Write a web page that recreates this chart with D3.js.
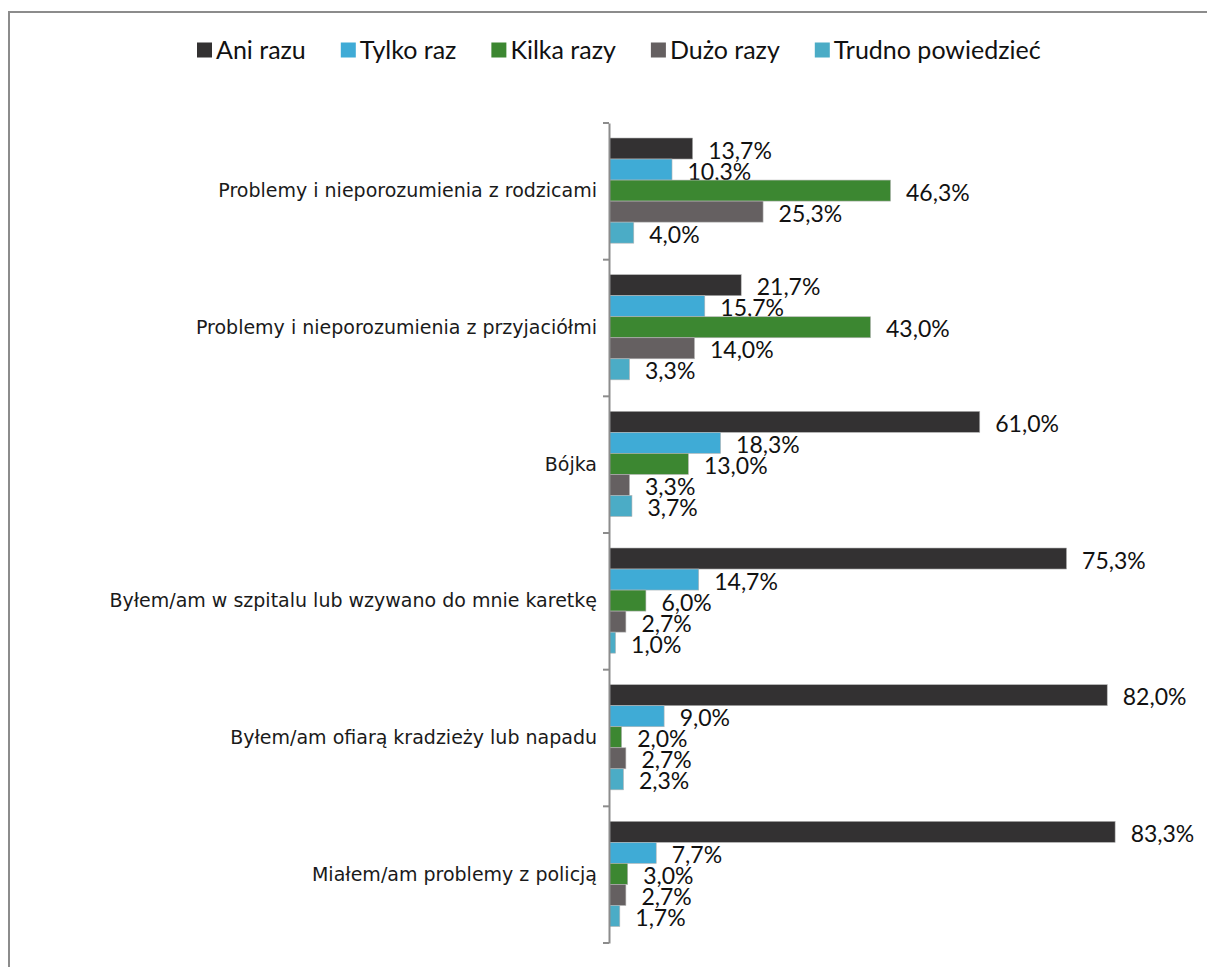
<!DOCTYPE html>
<html>
<head>
<meta charset="utf-8">
<script src="https://cdn.jsdelivr.net/npm/d3@7"></script>
<style>
  html, body { margin: 0; padding: 0; background: #fff; }
  svg { display: block; }
  .cat { font-family: "DejaVu Sans", Verdana, sans-serif; font-size: 19px; fill: #1a1a1a; }
  .val, .leg { font-family: Lato, "Open Sans", sans-serif; fill: #111; }
</style>
</head>
<body>
<svg id="chart" width="1207" height="967"></svg>
<script>
// Categories (top to bottom)
const categories = [
  "Problemy i nieporozumienia z rodzicami",
  "Problemy i nieporozumienia z przyjaciółmi",
  "Bójka",
  "Byłem/am w szpitalu lub wzywano do mnie karetkę",
  "Byłem/am ofiarą kradzieży lub napadu",
  "Miałem/am problemy z policją"
];

// Answer series
const seriesNames = ["Ani razu", "Tylko raz", "Kilka razy", "Dużo razy", "Trudno powiedzieć"];
const seriesColors = ["#333132", "#3fabd6", "#3c8731", "#656061", "#4bacc6"];

// Percent values per series, one per category
const aniRazu   = [13.7, 21.7, 61.0, 75.3, 82.0, 83.3];
const tylkoRaz  = [10.3, 15.7, 18.3, 14.7,  9.0,  7.7];
const kilkaRazy = [46.3, 43.0, 13.0,  6.0,  2.0,  3.0];
const duzoRazy  = [25.3, 14.0,  3.3,  2.7,  2.7,  2.7];
const trudno    = [ 4.0,  3.3,  3.7,  1.0,  2.3,  1.7];

const seriesValues = [aniRazu, tylkoRaz, kilkaRazy, duzoRazy, trudno];

const svg = d3.select("#chart");

// Outer frame
svg.append("rect")
  .attr("x", 9).attr("y", 12)
  .attr("width", 1220).attr("height", 980)
  .attr("fill", "none")
  .attr("stroke", "#8c8c8c")
  .attr("stroke-width", 2);

const plot = { left: 609, top: 123, bottom: 943 };

const x = d3.scaleLinear().domain([0, 90]).range([plot.left, plot.left + 90 * 6.07]);

const y0 = d3.scaleBand().domain(categories).range([plot.top, plot.bottom]).paddingInner(0).paddingOuter(0);

const y1 = d3.scaleBand().domain(seriesNames)
  .range([15, y0.bandwidth() - 16.5]).padding(0);

const fmt = v => d3.format(".1f")(v).replace(".", ",") + "%";

// Bars and value labels
const groups = svg.append("g").selectAll("g")
  .data(categories)
  .join("g")
  .attr("transform", d => `translate(0,${y0(d)})`);

groups.each(function(cat, ci) {
  const g = d3.select(this);
  seriesNames.forEach((s, si) => {
    const v = seriesValues[si][ci];
    g.append("rect")
      .attr("x", x(0) + 0.5)
      .attr("y", y1(s))
      .attr("width", x(v) - x(0))
      .attr("height", y1.bandwidth())
      .attr("fill", seriesColors[si])
      .attr("stroke", "#b4b4b4")
      .attr("stroke-width", 0.6);
    g.append("text")
      .attr("class", "val")
      .attr("x", x(v) + 16)
      .attr("y", y1(s) + y1.bandwidth() / 2 + 2)
      .attr("dy", "0.35em")
      .style("font-size", "23px")
      .text(fmt(v));
  });
});

// Category axis
const yAxis = d3.axisLeft(y0).tickSize(0).tickPadding(12);
const axisG = svg.append("g").attr("transform", `translate(${plot.left},0)`).call(yAxis);
axisG.select(".domain").attr("stroke", "#8c8c8c").attr("stroke-width", 2);
axisG.selectAll(".tick text").attr("class", "cat").attr("fill", null);

// Category separator ticks
const boundaries = categories.map(c => y0(c)).concat([plot.bottom]);
axisG.selectAll(".sep")
  .data(boundaries)
  .join("line")
  .attr("class", "sep")
  .attr("x1", -6).attr("x2", 0)
  .attr("y1", d => d).attr("y2", d => d)
  .attr("stroke", "#8c8c8c").attr("stroke-width", 2);

// Legend, laid out left to right from measured label widths
const legend = svg.append("g").attr("transform", "translate(0,50)");
let lx = 197;
seriesNames.forEach((name, i) => {
  const item = legend.append("g").attr("transform", `translate(${lx},0)`);
  item.append("rect")
    .attr("x", 0).attr("y", -7.5)
    .attr("width", 15).attr("height", 15)
    .attr("fill", seriesColors[i]);
  const t = item.append("text")
    .attr("class", "leg")
    .attr("x", 19).attr("y", 0).attr("dy", "0.35em")
    .style("font-size", "25px")
    .text(name);
  lx += 19 + t.node().getComputedTextLength() + 35;
});
</script>
</body>
</html>
